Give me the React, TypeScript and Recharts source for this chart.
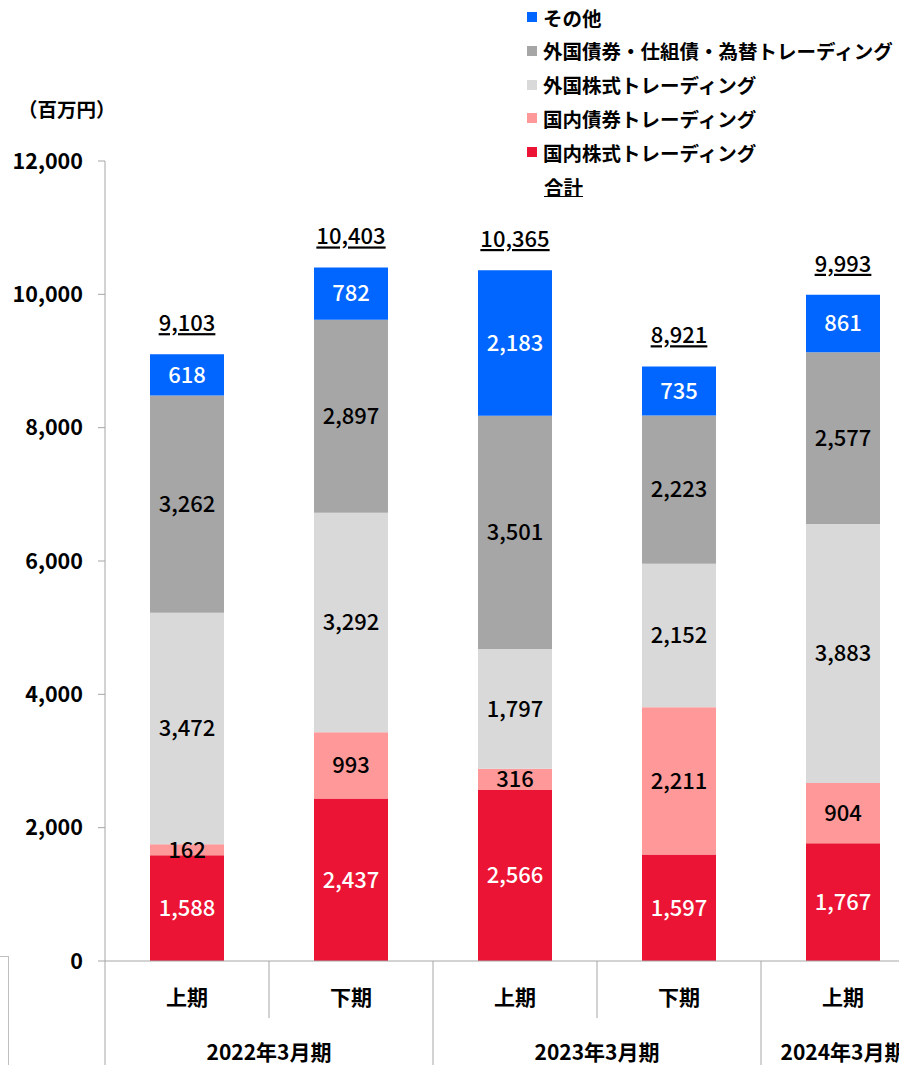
import { ComposedChart, Bar, Line, XAxis, YAxis, LabelList } from 'recharts'

// 期区分と決算期
const halves = ['上期', '下期', '上期', '下期', '上期']
const fiscalYears = ['2022年3月期', '2022年3月期', '2023年3月期', '2023年3月期', '2024年3月期']

// 系列（百万円）
const domesticEquity = [1588, 2437, 2566, 1597, 1767]
const domesticBond = [162, 993, 316, 2211, 904]
const foreignEquity = [3472, 3292, 1797, 2152, 3883]
const foreignBond = [3262, 2897, 3501, 2223, 2577]
const others = [618, 782, 2183, 735, 861]
const totals = [9103, 10403, 10365, 8921, 9993]

const yTicks = [0, 2000, 4000, 6000, 8000, 10000, 12000]

const FONT = "'Noto Sans CJK JP', 'Noto Sans', sans-serif"
const PLOT_LEFT = 105
const PLOT_W = 820
const SLOT = PLOT_W / halves.length
const AXIS_GRAY = '#a6a6a6'

// 積み上げ順（下から）
const series = [
  { key: 'domesticEquity', name: '国内株式トレーディング', color: '#eb1434', text: '#fff' },
  { key: 'domesticBond', name: '国内債券トレーディング', color: '#ff9999', text: '#000' },
  { key: 'foreignEquity', name: '外国株式トレーディング', color: '#d9d9d9', text: '#000' },
  { key: 'foreignBond', name: '外国債券・仕組債・為替トレーディング', color: '#a6a6a6', text: '#000' },
  { key: 'others', name: 'その他', color: '#0066ff', text: '#fff' },
]

const data = halves.map((h, i) => ({
  half: h,
  year: fiscalYears[i],
  domesticEquity: domesticEquity[i],
  domesticBond: domesticBond[i],
  foreignEquity: foreignEquity[i],
  foreignBond: foreignBond[i],
  others: others[i],
  total: totals[i],
}))

const fmt = (v: any) => Number(v).toLocaleString('en-US')

function CategoryTick(props: any) {
  const { x, y, index, payload } = props
  const year = fiscalYears[index]
  const isFirstOfYear = index === 0 || fiscalYears[index - 1] !== year
  const isLastOfYear = index === fiscalYears.length - 1 || fiscalYears[index + 1] !== year
  const count = fiscalYears.filter((f) => f === year).length
  const yearCenter = x + ((count - 1) * SLOT) / 2
  return (
    <g>
      {index === 0 && (
        <line x1={x - SLOT / 2} x2={x - SLOT / 2} y1={y} y2={y + 110} stroke={AXIS_GRAY} />
      )}
      <line
        x1={x + SLOT / 2}
        x2={x + SLOT / 2}
        y1={y}
        y2={isLastOfYear ? y + 110 : y + 57}
        stroke={AXIS_GRAY}
      />
      <text
        x={x}
        y={y + 35}
        textAnchor="middle"
        dominantBaseline="central"
        fontSize={21}
        fontWeight="bold"
        fill="#000"
        fontFamily={FONT}
      >
        {payload.value}
      </text>
      {isFirstOfYear && (
        <text
          x={yearCenter}
          y={y + 90}
          textAnchor="middle"
          dominantBaseline="central"
          fontSize={21}
          fontWeight="bold"
          fill="#000"
          fontFamily={FONT}
        >
          {year}
        </text>
      )}
    </g>
  )
}

function TotalLabel(props: any) {
  const { x, y, value } = props
  return (
    <text
      x={x}
      y={y - 33}
      textAnchor="middle"
      dominantBaseline="central"
      fontSize={22}
      fontWeight={500}
      fill="#000"
      fontFamily={FONT}
      style={{ textDecoration: 'underline' }}
    >
      {fmt(value)}
    </text>
  )
}

export default function App() {
  const legendItems = [...series].reverse()
  return (
    <div
      style={{
        position: 'fixed',
        left: 0,
        top: 0,
        width: 899,
        height: 1065,
        overflow: 'hidden',
        background: '#fff',
        fontFamily: FONT,
      }}
    >
      <ComposedChart
        width={PLOT_LEFT + PLOT_W + 5}
        height={1065}
        data={data}
        margin={{ top: 161, right: 5, bottom: 0, left: 0 }}
        barSize={74}
      >
        <XAxis
          dataKey="half"
          height={104}
          interval={0}
          tickLine={false}
          tickSize={0}
          tickMargin={0}
          axisLine={{ stroke: AXIS_GRAY }}
          tick={<CategoryTick />}
        />
        <YAxis
          width={PLOT_LEFT}
          domain={[0, 12000]}
          ticks={yTicks}
          interval={0}
          tickSize={7}
          tickMargin={15}
          axisLine={{ stroke: AXIS_GRAY }}
          tickLine={{ stroke: AXIS_GRAY }}
          tickFormatter={fmt}
          tick={{ fill: '#000', fontSize: 21.5, fontWeight: 'bold', fontFamily: FONT }}
        />
        {series.map((s) => (
          <Bar
            key={s.key}
            dataKey={s.key}
            name={s.name}
            stackId="a"
            fill={s.color}
            isAnimationActive={false}
          >
            <LabelList
              dataKey={s.key}
              position="center"
              formatter={fmt}
              fill={s.text}
              fontSize={22}
              fontWeight={500}
              fontFamily={FONT}
            />
          </Bar>
        ))}
        <Line
          dataKey="total"
          name="合計"
          stroke="none"
          dot={false}
          activeDot={false}
          isAnimationActive={false}
        >
          <LabelList dataKey="total" content={<TotalLabel />} />
        </Line>
      </ComposedChart>

      <div
        style={{
          position: 'absolute',
          left: 18,
          top: 94,
          fontSize: 19.5,
          fontWeight: 'bold',
          color: '#000',
        }}
      >
        （百万円）
      </div>

      <div style={{ position: 'absolute', left: 527, top: 0 }}>
        {legendItems.map((s, i) => (
          <div
            key={s.key}
            style={{
              position: 'absolute',
              top: 4 + i * 33.8,
              left: 0,
              height: 26,
              display: 'flex',
              alignItems: 'center',
              whiteSpace: 'nowrap',
              fontSize: 19.5,
              fontWeight: 'bold',
              color: '#000',
            }}
          >
            <span
              style={{ width: 10, height: 10, background: s.color, marginRight: 6, display: 'inline-block' }}
            />
            {s.name}
          </div>
        ))}
        <div
          style={{
            position: 'absolute',
            top: 4 + legendItems.length * 33.8,
            left: 17,
            height: 26,
            display: 'flex',
            alignItems: 'center',
            fontSize: 19.5,
            fontWeight: 'bold',
            textDecoration: 'underline',
            whiteSpace: 'nowrap',
          }}
        >
          合計
        </div>
      </div>

      <div
        style={{
          position: 'absolute',
          left: -2,
          top: 956,
          width: 10,
          height: 120,
          borderTop: '1px solid #bfbfbf',
          borderRight: '1px solid #bfbfbf',
        }}
      />
    </div>
  )
}
